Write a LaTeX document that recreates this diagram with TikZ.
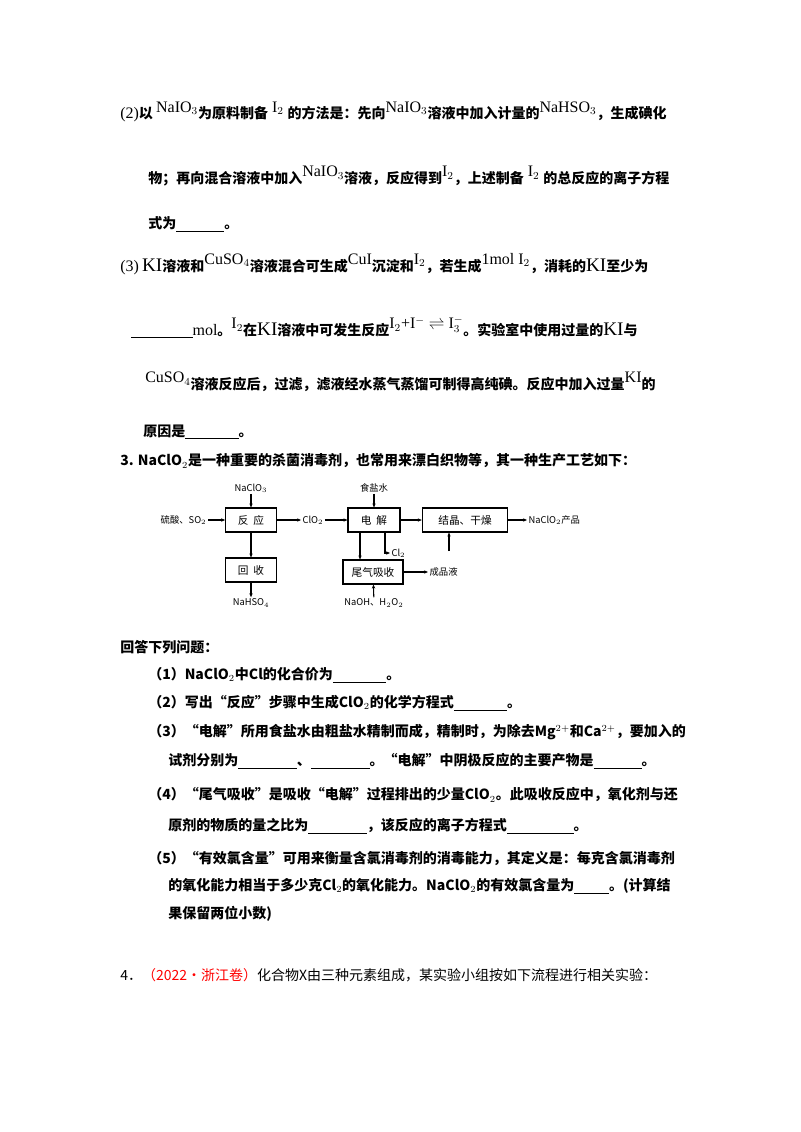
\documentclass[tikz,border=0pt]{standalone}
\usepackage{fontspec}
\setmainfont{Noto Sans CJK SC}
\newfontfamily\rmf{Liberation Serif}
\usetikzlibrary{arrows.meta}
\newcommand{\f}[1]{{\rmf\mdseries #1}}
\newcommand{\rs}[1]{\raisebox{5pt}{\f{\large #1}}}
\newcommand{\bl}[1]{\rule[-2pt]{#1pt}{0.6pt}}
\begin{document}
\begin{tikzpicture}[x=0.75pt,y=-0.75pt,
 t/.style={anchor=west,inner sep=0pt,font=\fontsize{10.5pt}{12pt}\bfseries},
 bx/.style={draw,thick,inner sep=0pt,font=\fontsize{8pt}{9pt}\selectfont},
 lb/.style={inner sep=1pt,font=\fontsize{7pt}{8pt}\selectfont},
 ar/.style={-{Stealth[length=3pt,width=2.5pt]},thick}]
\useasboundingbox (0,0) rectangle (800,1132);
\node[t] (l1) at (120,112) {\f{\large (2)}以 \rs{NaIO$_3$}为原料制备\rs{ I$_2$ }的方法是：先向\rs{NaIO$_3$}溶液中加入计量的\rs{NaHSO$_3$}，生成碘化};
\node[t] (l2) at (148,176) {物；再向混合溶液中加入\rs{NaIO$_3$}溶液，反应得到\rs{I$_2$}，上述制备\rs{ I$_2$ }的总反应的离子方程};
\node[t] (l3) at (148,224) {式为\bl{36}。};
\node[t] (l4) at (120,264) {\f{\large (3)} \f{\Large KI}溶液和\rs{CuSO$_4$}溶液混合可生成\rs{CuI}沉淀和\rs{I$_2$}，若生成\rs{1mol I$_2$}，消耗的\f{\Large KI}至少为};
\node[t] (l5) at (131,327) {\bl{46}\f{\large mol}。\rs{I$_2$}在\f{\Large KI}溶液中可发生反应\rs{I$_2$+I$^-$ $\rightleftharpoons$ I$_3^-$}。实验室中使用过量的\f{\Large KI}与};
\node[t] (l6) at (145,382) {\rs{CuSO$_4$}溶液反应后，过滤，滤液经水蒸气蒸馏可制得高纯碘。反应中加入过量\rs{KI}的};
\node[t] (l7) at (143,432) {原因是\bl{40}。};
\node[t] (l8) at (120,461) {3. NaClO$_2$是一种重要的杀菌消毒剂，也常用来漂白织物等，其一种生产工艺如下：};
% flowchart
\node[bx,minimum width=38pt,minimum height=18pt] (fy) at (251,520) {反\ \ 应};
\node[bx,minimum width=38pt,minimum height=18pt] (hs) at (251,570) {回\ \ 收};
\node[bx,minimum width=39pt,minimum height=18pt] (dj) at (374,520) {电\ \ 解};
\node[bx,minimum width=64pt,minimum height=18pt] (jj) at (465,520) {结晶、干燥};
\node[bx,minimum width=45pt,minimum height=18pt] (wq) at (373,572) {尾气吸收};
\node[lb] (nacl3) at (251,488) {NaClO$_3$};
\node[lb,anchor=east] (hso) at (208,520) {硫酸、SO$_2$};
\node[lb] (clo2) at (313,520) {ClO$_2$};
\node[lb] (ysh) at (374,488) {食盐水};
\node[lb,anchor=west] (prod) at (527,520) {NaClO$_2$产品};
\node[lb,anchor=west] (cl2) at (390,553) {Cl$_2$};
\node[lb,anchor=west] (cpy) at (428,572) {成品液};
\node[lb] (nahs) at (251,603) {NaHSO$_4$};
\node[lb] (naoh) at (374,603) {NaOH、H$_2$O$_2$};
\draw[ar] (nacl3) -- (fy);
\draw[ar] (hso) -- (fy);
\draw[ar] (fy) -- (clo2);
\draw[ar] (clo2) -- (dj);
\draw[ar] (fy) -- (hs);
\draw[ar] (hs) -- (nahs);
\draw[ar] (ysh) -- (dj);
\draw[ar] (dj) -- (jj);
\draw[ar] (jj) -- (prod);
\draw[ar] (dj.south -| 360,0) -- (wq.north -| 360,0);
\coordinate (c1) at (385,553);
\draw[ar] (dj.south -| c1) -- (c1) -- (cl2);
\draw[ar] (wq) -- (cpy);
\draw[ar] (449,551) -- (jj.south -| 449,0);
\draw[ar] (naoh) -- (wq);
% questions
\node[t] (q0) at (120,647) {回答下列问题：};
\node[t] (q1) at (148,675) {（1）NaClO$_2$中Cl的化合价为\bl{40}。};
\node[t] (q2) at (148,703) {（2）写出“反应”步骤中生成ClO$_2$的化学方程式\bl{40}。};
\node[t] (q3) at (148,732) {（3）“电解”所用食盐水由粗盐水精制而成，精制时，为除去Mg$^{2+}$和Ca$^{2+}$，要加入的};
\node[t] (q3b) at (168,761) {试剂分别为\bl{44}、\bl{44}。“电解”中阴极反应的主要产物是\bl{36}。};
\node[t] (q4) at (148,795) {（4）“尾气吸收”是吸收“电解”过程排出的少量ClO$_2$。此吸收反应中，氧化剂与还};
\node[t] (q4b) at (168,826) {原剂的物质的量之比为\bl{44}，该反应的离子方程式\bl{50}。};
\node[t] (q5) at (148,858) {（5）“有效氯含量”可用来衡量含氯消毒剂的消毒能力，其定义是：每克含氯消毒剂};
\node[t] (q5b) at (168,886) {的氧化能力相当于多少克Cl$_2$的氧化能力。NaClO$_2$的有效氯含量为\bl{26}。(计算结};
\node[t] (q5c) at (168,914) {果保留两位小数)};
\node[t,font=\fontsize{10.5pt}{12pt}\selectfont] (q6) at (120,975) {4．\textcolor{red}{（2022·浙江卷）}化合物X由三种元素组成，某实验小组按如下流程进行相关实验：};
\end{tikzpicture}
\end{document}
